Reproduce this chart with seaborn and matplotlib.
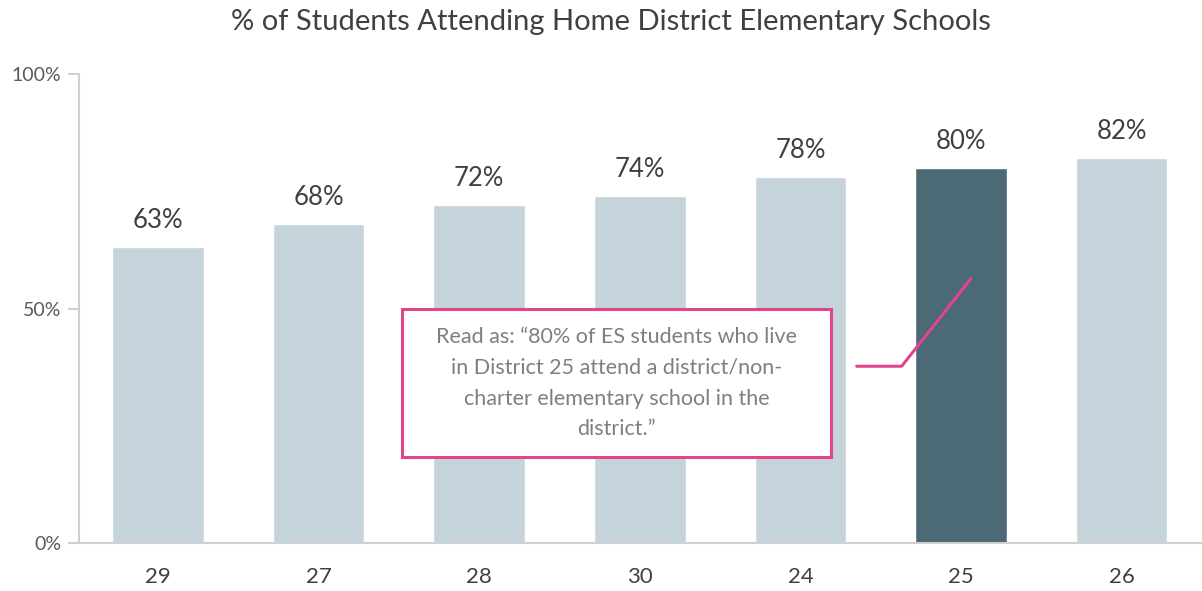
import matplotlib
matplotlib.use("Agg")
import matplotlib.pyplot as plt
import seaborn as sns
import pandas as pd
from matplotlib.patches import Rectangle

# data
districts = ["29", "27", "28", "30", "24", "25", "26"]
pct = [63, 68, 72, 74, 78, 80, 82]
highlight = "25"

light = "#C5D4DB"
dark = "#4B6A76"
pink = "#E0458E"

df = pd.DataFrame({"district": districts, "pct": [p / 100 for p in pct]})
colors = [dark if d == highlight else light for d in districts]

sns.set_style("white")
plt.rcParams["font.family"] = ["Lato", "DejaVu Sans"]

fig = plt.figure(figsize=(12.02, 5.91), dpi=100)
ax = fig.add_axes([0.066, 0.081, 0.934, 0.794])

sns.barplot(data=df, x="district", y="pct", hue="district", order=districts,
            palette=colors, legend=False, width=0.57, saturation=1, ax=ax)

for i, p in enumerate(pct):
    ax.text(i, p / 100 + 0.03, f"{p}%", ha="center", va="bottom",
            fontsize=18.5, color="#404040")

ax.set_xlim(-0.49, 6.5)
ax.set_ylim(0, 1)
ax.set_yticks([0, 0.5, 1])
ax.set_yticklabels(["0%", "50%", "100%"])
ax.set_xlabel("")
ax.set_ylabel("")
ax.tick_params(axis="y", left=True, length=8, width=1.5, color="#d0d0d0",
               labelsize=14, labelcolor="#595959", pad=5)
ax.tick_params(axis="x", length=0, labelsize=16, labelcolor="#404040", pad=17)

for s in ["top", "right"]:
    ax.spines[s].set_visible(False)
for s in ["left", "bottom"]:
    ax.spines[s].set_color("#d0d0d0")
    ax.spines[s].set_linewidth(1.5)

fig.suptitle("% of Students Attending Home District Elementary Schools",
             fontsize=21, color="#404040", x=0.508, y=0.985)

# annotation box and leader line
box = Rectangle((1.52, 0.183), 2.67, 0.316, facecolor="white", edgecolor=pink,
                linewidth=2.2, zorder=5)
ax.add_patch(box)
ax.text(2.855, 0.341,
        "Read as: \u201c80% of ES students who live\nin District 25 attend a district/non-\ncharter elementary school in the\ndistrict.\u201d",
        ha="center", va="center", fontsize=15.5, color="#7f7f7f",
        linespacing=1.68, zorder=6)
ax.plot([4.35, 4.63, 5.06], [0.377, 0.377, 0.563], color=pink, linewidth=2.2, zorder=6)

fig.savefig("out.png", dpi=100)
